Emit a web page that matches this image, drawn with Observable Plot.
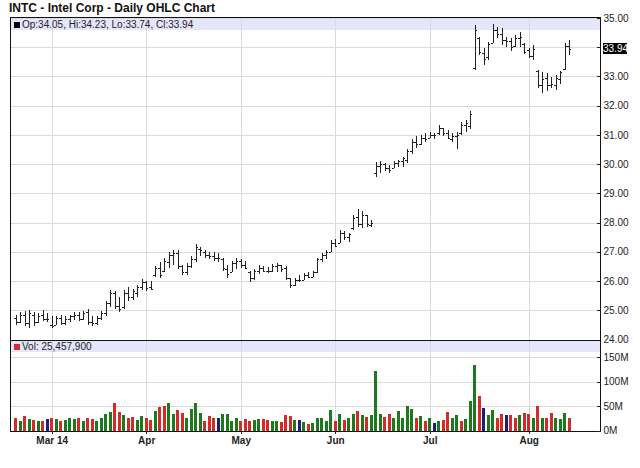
<!DOCTYPE html>
<html><head><meta charset="utf-8">
<script src="https://cdn.jsdelivr.net/npm/d3@7"></script>
<script src="https://cdn.jsdelivr.net/npm/@observablehq/plot@0.6"></script>
<style>
body{margin:0;background:#fff;font-family:"Liberation Sans",Arial,sans-serif;}
#wrap{position:relative;width:640px;height:468px;overflow:hidden;background:#fff;}
#title{position:absolute;left:9px;top:1px;font-weight:bold;font-size:12px;color:#111;white-space:nowrap;}
.band{position:absolute;left:10px;width:590px;background:#e6e6fa;}
.leg{position:absolute;left:14px;font-size:10px;line-height:11px;color:#222;white-space:nowrap;}
.sq{display:inline-block;width:6px;height:6px;margin-right:2px;vertical-align:0px;}
#wrap svg{position:absolute;left:0;overflow:visible;background:transparent;}
#wrap svg line,#wrap svg path,#wrap svg rect{shape-rendering:crispEdges;}
#last{position:absolute;left:603px;width:24px;height:11px;background:#000;color:#fff;font-size:10px;line-height:11px;text-align:center;}
</style></head><body>
<div id="wrap">
  <div id="title">INTC - Intel Corp - Daily OHLC Chart</div>
  <div class="band" style="top:17px;height:13px"></div>
  <div class="band" style="top:341px;height:11px"></div>
</div>
<script>
// Trading days (2014)
const febDays = [19,20,21,24,25,26,27,28];
const marDays = [3,4,5,6,7,10,11,12,13,14,17,18,19,20,21,24,25,26,27,28,31];
const aprDays = [1,2,3,4,7,8,9,10,11,14,15,16,17,21,22,23,24,25,28,29,30];
const mayDays = [1,2,5,6,7,8,9,12,13,14,15,16,19,20,21,22,23,27,28,29,30];
const junDays = [2,3,4,5,6,9,10,11,12,13,16,17,18,19,20,23,24,25,26,27,30];
const julDays = [1,2,3,7,8,9,10,11,14,15,16,17,18,21,22,23,24,25,28,29,30,31];
const augDays = [1,4,5,6,7,8,11,12,13,14];
const monthNums = ["03","04","05","06","07","08"];
const monthLabels = ["Mar 14","Apr","May","Jun","Jul","Aug"];

const opens = [
24.75,24.60,24.85,24.55,24.85,24.60,24.85,24.70,24.50,24.50,
24.75,24.55,24.70,24.80,24.85,24.70,24.95,24.60,24.55,24.75,
24.90,25.25,25.60,25.15,25.10,25.60,25.45,25.60,25.80,25.95,
25.80,26.20,26.45,26.35,26.65,26.90,26.95,26.50,26.30,26.50,
26.75,27.10,27.00,26.90,26.85,26.80,26.75,26.40,26.30,26.60,
26.70,26.55,26.30,26.10,26.35,26.45,26.35,26.35,26.50,26.55,
26.45,26.10,25.85,26.05,26.05,26.20,26.15,26.30,26.75,26.90,
27.00,27.30,27.30,27.65,27.50,27.80,28.20,27.95,28.25,27.90,
29.70,29.95,30.00,29.85,29.85,30.05,30.10,30.15,30.45,30.75,
30.70,30.90,30.90,31.00,31.05,31.25,31.05,30.85,30.95,31.05,
31.35,31.30,33.30,34.30,33.80,33.65,34.15,34.60,34.45,34.25,
34.20,34.05,34.30,34.10,33.90,33.70,33.20,32.70,32.95,32.70,
32.70,32.90,33.25,34.05];
const highs = [
24.85,24.95,24.98,25.00,24.95,24.90,25.02,24.90,24.80,24.80,
24.85,24.80,24.85,24.93,24.95,24.98,25.05,24.80,24.80,24.97,
25.30,25.70,25.65,25.45,25.70,25.80,25.72,25.88,26.08,26.00,
26.00,26.50,26.65,26.80,27.00,27.07,27.05,26.56,26.60,26.85,
27.25,27.15,27.05,27.00,26.98,26.95,26.80,26.55,26.70,26.80,
26.75,26.70,26.35,26.40,26.55,26.50,26.48,26.58,26.60,26.55,
26.50,26.12,26.12,26.22,26.28,26.32,26.35,26.80,26.97,27.05,
27.40,27.45,27.75,27.70,27.65,28.25,28.45,28.40,28.25,28.10,
30.08,30.10,30.05,29.98,30.10,30.15,30.25,30.50,30.85,30.95,
31.00,31.05,31.10,31.05,31.35,31.25,31.15,31.05,31.10,31.45,
31.50,31.80,34.76,34.36,33.96,34.19,34.80,34.70,34.65,34.36,
34.31,34.42,34.53,34.13,33.96,34.08,33.22,33.15,33.10,32.98,
33.05,33.20,34.15,34.23];
const lows = [
24.50,24.55,24.45,24.40,24.45,24.55,24.62,24.60,24.38,24.50,
24.48,24.50,24.60,24.65,24.62,24.65,24.50,24.45,24.50,24.65,
24.80,25.10,25.05,24.95,25.05,25.30,25.35,25.45,25.70,25.65,
25.70,26.15,26.10,26.30,26.45,26.55,26.40,26.20,26.20,26.45,
26.65,26.85,26.80,26.75,26.70,26.65,26.35,26.10,26.30,26.40,
26.45,26.40,25.98,26.05,26.25,26.30,26.28,26.30,26.32,26.30,
26.05,25.75,25.82,25.95,26.05,26.10,26.15,26.28,26.66,26.75,
27.00,27.15,27.30,27.40,27.35,27.75,27.85,27.80,27.85,27.85,
29.57,29.70,29.75,29.70,29.85,29.90,29.90,30.05,30.35,30.55,
30.65,30.75,30.90,30.85,31.00,30.95,30.85,30.75,30.50,31.00,
31.10,31.20,33.22,33.74,33.39,33.57,34.13,34.31,34.08,34.02,
33.88,34.02,34.02,33.75,33.62,33.57,32.60,32.44,32.50,32.60,
32.55,32.75,33.22,33.74];
const closes = [
24.60,24.85,24.55,24.90,24.60,24.80,24.70,24.70,24.45,24.75,
24.55,24.70,24.80,24.85,24.70,24.90,24.60,24.55,24.75,24.92,
25.25,25.60,25.15,25.05,25.60,25.45,25.65,25.80,25.95,25.75,
25.72,26.45,26.20,26.70,26.90,26.95,26.50,26.30,26.50,26.75,
27.15,27.05,26.90,26.85,26.80,26.80,26.45,26.25,26.60,26.70,
26.55,26.45,26.10,26.35,26.45,26.35,26.35,26.50,26.55,26.40,
26.10,25.85,26.05,26.05,26.20,26.15,26.30,26.75,26.90,27.00,
27.30,27.20,27.65,27.50,27.60,28.15,27.95,28.25,27.95,28.00,
29.95,30.00,29.85,29.80,30.05,30.10,30.20,30.45,30.75,30.70,
30.90,30.85,31.00,31.00,31.25,31.05,30.90,30.95,31.00,31.35,
31.40,31.70,34.60,33.85,33.60,34.10,34.60,34.45,34.25,34.20,
34.00,34.30,34.35,33.85,33.70,33.95,32.70,32.90,32.70,32.75,
32.95,33.15,34.05,33.94];
// volume in millions of shares
const volumesM = [
26,20,29,23,22,20,20,23,25,23, 20,22,25,24,25,20,25,23,19,26,
34,37,56,37,31,26,27,22,29,25, 22,39,48,49,56,33,41,35,25,44,
57,36,20,29,25,25,33,33,20,25, 20,23,20,22,23,24,22,20,20,17,
31,29,22,22,18,14,15,26,
26,20,42,20,33,22,25,34,39,32, 27,31,121,34,27,33,25,39,25,51,
44,26,29,20,26,16,20,22,37,26, 31,20,24,61,133,70,46,31,42,25,
33,31,31,25,31,35,33,26,49,26, 26,35,26,24,35,25.4579];
// u = up, d = down, n = unchanged
const volDir = [
"d","u","d","u","d","u","d","n","d","u", "d","u","u","u","d","u","d","d","u","u",
"u","u","d","d","u","d","d","u","u","d", "d","u","d","d","u","u","d","d","u","u",
"u","u","d","d","d","n","u","u","u","u", "d","d","d","u","u","d","d","u","u","d",
"d","d","u","n","u","d","u","u",
"u","u","u","d","u","d","u","u","d","u", "d","u","u","u","d","d","u","u","u","u",
"u","d","u","d","u","n","u","d","d","u", "u","d","u","u","u","d","n","u","u","d",
"d","n","d","d","u","d","d","u","d","u", "d","d","u","u","u","d"];

const priceTicks = [24,25,26,27,28,29,30,31,32,33,34,35];
const volTicks = [0,50e6,100e6,150e6];
const lastVolume = 25457900;

const monthDays = [["02",febDays],["03",marDays],["04",aprDays],["05",mayDays],["06",junDays],["07",julDays],["08",augDays]];
const dates = monthDays.flatMap(([m,ds]) => ds.map(d => `2014-${m}-${String(d).padStart(2,"0")}`));
const data = dates.map((d,i) => ({i, date:d, open:opens[i], high:highs[i], low:lows[i], close:closes[i], vol:volumesM[i]*1e6, dir:volDir[i]}));
const monthIdx = monthNums.map(m => dates.findIndex(d => d.slice(5,7) === m));
const labelMap = new Map(monthIdx.map((v,k) => [v, monthLabels[k]]));
const dirColor = {u:"#1c7a1c", d:"#d42a2a", n:"#1e1e78"};
const xDomain = [-1.27, 129.84];
const grid = "#dadada";
const ink = "#222";
const last = data[data.length-1];
// the price label box covers the tick label nearest to the last close
const hiddenTick = priceTicks.reduce((a,b) => Math.abs(b-last.close) < Math.abs(a-last.close) ? b : a);

const price = Plot.plot({
  width:640, height:340, marginLeft:10, marginRight:40, marginTop:17, marginBottom:0.5,
  style:{background:"transparent", overflow:"visible", fontFamily:"'Liberation Sans',Arial,sans-serif"},
  x:{type:"linear", domain:xDomain, axis:null},
  y:{domain:[24,35.03], axis:null},
  marks:[
    Plot.ruleY(priceTicks, {stroke:grid}),
    Plot.ruleX(monthIdx, {stroke:grid}),
    Plot.ruleX(data, {x:"i", y1:"low", y2:"high", stroke:ink}),
    Plot.ruleY(data, {y:"open", x1:d => d.i-0.45, x2:"i", stroke:ink}),
    Plot.ruleY(data, {y:"close", x1:"i", x2:d => d.i+0.45, stroke:ink}),
    Plot.frame({stroke:"#111"}),
    Plot.axisY(priceTicks, {anchor:"right", label:null, tickSize:4, dx:-4, tickPadding:3, tickFormat:d => d === hiddenTick ? "" : d.toFixed(2), fontSize:10, color:ink})
  ]
});
price.style.top = "0px";

const volume = Plot.plot({
  width:640, height:110, marginLeft:10, marginRight:40, marginTop:0, marginBottom:19.5,
  style:{background:"transparent", overflow:"visible", fontFamily:"'Liberation Sans',Arial,sans-serif"},
  x:{type:"linear", domain:xDomain},
  y:{domain:[0,184.7e6]},
  color:{type:"identity"},
  marks:[
    Plot.ruleY(volTicks.slice(1), {stroke:grid}),
    Plot.ruleX(monthIdx, {stroke:grid}),
    Plot.rect(data, {x1:d => d.i-0.3, x2:d => d.i+0.3, y1:0, y2:"vol", fill:d => dirColor[d.dir]}),
    Plot.frame({stroke:"#111"}),
    Plot.axisY(volTicks, {anchor:"right", label:null, tickSize:4, dx:-4, tickPadding:3, tickFormat:d => (d/1e6)+"M", fontSize:10, color:ink}),
    Plot.axisX(monthIdx, {anchor:"bottom", label:null, tickSize:3, tickPadding:3, tickFormat:d => labelMap.get(d), fontWeight:"bold", fontSize:10, color:ink})
  ]
});
volume.style.top = "340px";

const wrap = document.getElementById("wrap");
wrap.appendChild(price);
wrap.appendChild(volume);

const fmt = v => v.toFixed(2);
const leg1 = document.createElement("div");
leg1.className = "leg"; leg1.style.top = "19px";
leg1.innerHTML = `<span class="sq" style="background:#000"></span>Op:${fmt(last.open)}, Hi:${fmt(last.high)}, Lo:${fmt(last.low)}, Cl:${fmt(last.close)}`;
wrap.appendChild(leg1);
const leg2 = document.createElement("div");
leg2.className = "leg"; leg2.style.top = "341px";
leg2.innerHTML = `<span class="sq" style="background:#d42a2a"></span>Vol: ${d3.format(",")(lastVolume)}`;
wrap.appendChild(leg2);

const lab = document.createElement("div");
lab.id = "last";
lab.style.top = (price.scale("y").apply(last.close) - 5.5) + "px";
lab.textContent = fmt(last.close);
wrap.appendChild(lab);
</script>
</body></html>
